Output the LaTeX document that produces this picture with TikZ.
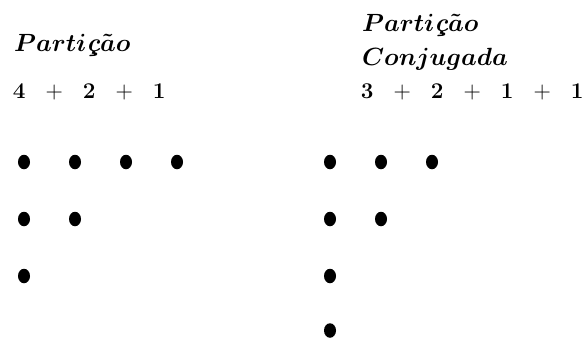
\documentclass[tikz,border=0pt]{standalone}
\usepackage{amsmath,amssymb}
\usetikzlibrary{shapes.geometric}
\newcommand{\partword}{$\boldsymbol{Parti}\mbox{\bfseries\itshape ç}\boldsymbol{\tilde{a}o}$}
\newcommand{\cellbox}[1]{\makebox[35pt]{#1}}
\newcommand{\dg}[1]{\cellbox{\fontsize{22.5}{26}\selectfont\bfseries #1}}
\newcommand{\pl}{\cellbox{\fontsize{24}{26}\selectfont +}}
\tikzset{
  dot/.style={ellipse, fill=black, inner sep=0pt, minimum width=12pt, minimum height=14.5pt},
  title/.style={anchor=base west, inner sep=0pt, font=\fontsize{26}{30}\selectfont},
  sumtext/.style={anchor=base west, inner sep=0pt}
}
\begin{document}
\begin{tikzpicture}[x=1pt,y=-1pt]
\useasboundingbox (0,0) rectangle (586,338);
% left
\node[title] (lt) at (14,51) {\partword};
\node[sumtext] (ls) at (1.5,98.5) {\dg{4}\pl\dg{2}\pl\dg{1}};
\foreach \x/\n in {24/1,75/2,126/3,177/4} \node[dot] (a\n) at (\x,162) {};
\foreach \x/\n in {24/1,75/2} \node[dot] (b\n) at (\x,219) {};
\node[dot] (c1) at (24,276) {};
% right
\node[title] (rt) at (362,31) {\partword};
\node[title] (rc) at (362,65) {$\boldsymbol{Conjugada}$};
\node[sumtext] (rs) at (349.5,98.5) {\dg{3}\pl\dg{2}\pl\dg{1}\pl\dg{1}};
\foreach \x/\n in {330/1,381/2,432/3} \node[dot] (d\n) at (\x,162) {};
\foreach \x/\n in {330/1,381/2} \node[dot] (e\n) at (\x,219) {};
\node[dot] (f1) at (330,276) {};
\node[dot] (g1) at (330,330.5) {};
\end{tikzpicture}
\end{document}
